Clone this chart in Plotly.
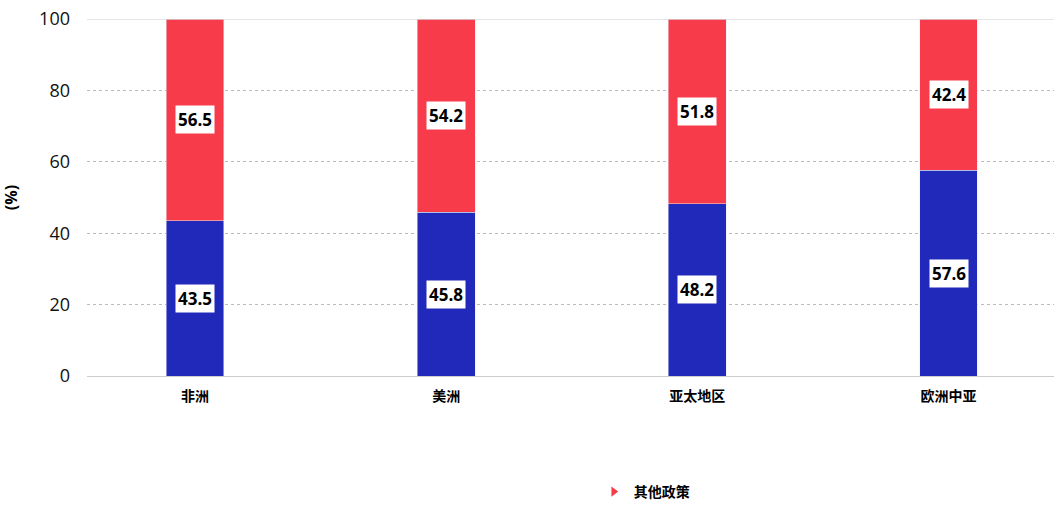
import plotly.graph_objects as go

# regions and policy shares (%)
regions = ['非洲', '美洲', '亚太地区', '欧洲中亚']
share_blue = [43.5, 45.8, 48.2, 57.6]
share_other = [56.5, 54.2, 51.8, 42.4]

blue = '#2129BB'
red = '#F73B4A'

fig = go.Figure()
fig.add_trace(go.Bar(x=regions, y=share_blue, marker_color=blue, width=0.23,
                     showlegend=False))
fig.add_trace(go.Bar(x=regions, y=share_other, marker_color=red, width=0.23,
                     showlegend=False))
# legend entry with triangle marker
fig.add_trace(go.Scatter(x=[None], y=[None], mode='markers', name='<b>其他政策</b>',
                         marker=dict(symbol='triangle-right', color=red, size=9)))

# value labels in white boxes, centred in each segment
for r, b, o in zip(regions, share_blue, share_other):
    for val, mid in [(b, b / 2), (o, b + o / 2)]:
        fig.add_annotation(x=r, y=mid, text=f'<b>{val}</b>', showarrow=False,
                           bgcolor='white', borderpad=2,
                           font=dict(size=17, color='black', family='Open Sans'))

fig.update_layout(
    barmode='stack',
    width=1054, height=508,
    margin=dict(l=87, r=0, t=19, b=131),
    plot_bgcolor='white', paper_bgcolor='white',
    font=dict(family='Open Sans, Noto Sans CJK SC', color='#111'),
    legend=dict(orientation='h', x=0.524, y=-0.28, xanchor='left', yanchor='top',
                itemwidth=30,
                font=dict(size=14, family='Noto Sans CJK SC', color='black')),
)
fig.update_xaxes(range=[-0.43, 3.42], showgrid=False, ticks='', automargin=False,
                 ticklabelstandoff=10,
                 tickfont=dict(size=14, family='Noto Sans CJK SC', color='black', weight='bold'),
                 showline=False)
fig.update_yaxes(range=[0, 100], dtick=20, showgrid=True, gridcolor='#bbb',
                 griddash='dot', gridwidth=1, zeroline=True, zerolinecolor='#ccc',
                 zerolinewidth=1, ticks='', ticklabelstandoff=16, automargin=False,
                 tickfont=dict(size=18, color='#111'),
                 title=dict(text='<b>(%)</b>', font=dict(size=16, color='black'), standoff=18))
# solid line at the top
fig.add_hline(y=100, line_color='#ccc', line_width=1)

# drop the default 8px page margin so the figure sits at the window corner
fig.write_html("out.html", config={'displayModeBar': False},
               post_script="document.body.style.margin='0';")
